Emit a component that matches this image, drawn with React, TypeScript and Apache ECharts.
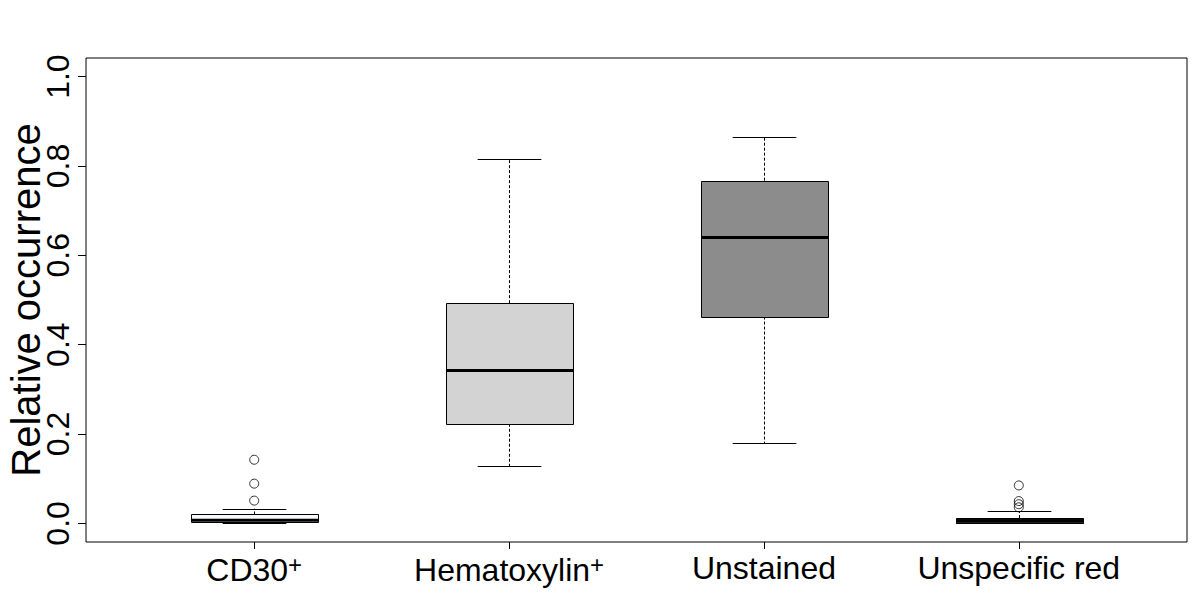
import React, { useEffect, useRef } from "react";
import * as echarts from "echarts";

const categories = ["CD30", "Hematoxylin", "Unstained", "Unspecific red"];
const categorySup = ["+", "+", "", ""];
const boxMin = [0.0, 0.128, 0.179, 0.0];
const boxQ1 = [0.001, 0.223, 0.463, 0.0005];
const boxMedian = [0.007, 0.342, 0.64, 0.006];
const boxQ3 = [0.02, 0.493, 0.767, 0.012];
const boxMax = [0.033, 0.816, 0.864, 0.027];
const boxFills = ["#f8f8ff", "#d3d3d3", "#8c8c8c", "#2a2a2a"];
const outliers: [number, number][] = [
  [1, 0.1425],
  [1, 0.089],
  [1, 0.051],
  [4, 0.085],
  [4, 0.05],
  [4, 0.043],
  [4, 0.036],
];
const yTicks = [0, 0.2, 0.4, 0.6, 0.8, 1.0];
const xTicks = [1, 2, 3, 4];

const FONT = "'Liberation Sans', Arial, Helvetica, sans-serif";

export default function App() {
  const ref = useRef<HTMLDivElement>(null);
  useEffect(() => {
    if (!ref.current) return;
    const chart = echarts.init(ref.current, undefined, { renderer: "svg" });
    const boxData = categories.map((_, i) => [
      i + 1,
      boxMin[i],
      boxQ1[i],
      boxMedian[i],
      boxQ3[i],
      boxMax[i],
    ]);
    const snap = (v: number) => Math.round(v) + 0.5;
    chart.setOption({
      animation: false,
      backgroundColor: "#ffffff",
      grid: {
        left: 86,
        right: 13,
        top: 58,
        bottom: 58,
        show: true,
        borderColor: "#000",
        borderWidth: 1,
        backgroundColor: "transparent",
        containLabel: false,
        outerBoundsMode: "none",
      },
      xAxis: {
        type: "value",
        min: 0.34,
        max: 4.66,
        axisLine: { show: false, onZero: false },
        splitLine: { show: false },
        axisTick: {
          show: true,
          inside: false,
          length: 7,
          customValues: xTicks,
          lineStyle: { color: "#000", width: 1 },
        },
        axisLabel: {
          customValues: xTicks,
          formatter: (v: number) => {
            const i = Math.round(v) - 1;
            const name = categories[i] ?? "";
            const sup = categorySup[i] ?? "";
            return sup ? `${name}{sup|${sup}}` : name;
          },
          fontFamily: FONT,
          fontSize: 32,
          color: "#000",
          margin: 10,
          rich: {
            sup: {
              fontFamily: FONT,
              fontSize: 24,
              color: "#000",
              padding: [0, 0, 12, 0],
            },
          },
        },
      },
      yAxis: {
        type: "value",
        min: -0.0416,
        max: 1.0416,
        axisLine: { show: false },
        splitLine: { show: false },
        axisTick: {
          show: true,
          inside: false,
          length: 8,
          customValues: yTicks,
          lineStyle: { color: "#000", width: 1 },
        },
        axisLabel: {
          customValues: yTicks,
          formatter: (v: number) => v.toFixed(1),
          rotate: 90,
          fontFamily: FONT,
          fontSize: 32,
          color: "#000",
          margin: 12,
        },
        name: "Relative occurrence",
        nameLocation: "middle",
        nameRotate: 90,
        nameGap: 40,
        nameMoveOverlap: false,
        nameTextStyle: { fontFamily: FONT, fontSize: 40, color: "#000" },
      },
      series: [
        {
          type: "custom",
          data: boxData,
          renderItem: (params: any, api: any) => {
            const idx = api.value(0);
            const band = api.size([1, 0])[0];
            const bw = band * 0.5;
            const cw = band * 0.25;
            const pMin = api.coord([idx, api.value(1)]);
            const pQ1 = api.coord([idx, api.value(2)]);
            const pMed = api.coord([idx, api.value(3)]);
            const pQ3 = api.coord([idx, api.value(4)]);
            const pMax = api.coord([idx, api.value(5)]);
            const cx = snap(pMin[0]);
            const fill = boxFills[params.dataIndex];
            const dashStyle = { stroke: "#000", lineWidth: 1, lineDash: [3, 2] };
            const solid = { stroke: "#000", lineWidth: 1 };
            return {
              type: "group",
              children: [
                {
                  type: "line",
                  shape: { x1: cx, y1: pQ3[1], x2: cx, y2: pMax[1] },
                  style: dashStyle,
                },
                {
                  type: "line",
                  shape: { x1: cx, y1: pQ1[1], x2: cx, y2: pMin[1] },
                  style: dashStyle,
                },
                {
                  type: "line",
                  shape: { x1: cx - cw / 2, y1: snap(pMax[1]), x2: cx + cw / 2, y2: snap(pMax[1]) },
                  style: solid,
                },
                {
                  type: "line",
                  shape: { x1: cx - cw / 2, y1: snap(pMin[1]), x2: cx + cw / 2, y2: snap(pMin[1]) },
                  style: solid,
                },
                {
                  type: "rect",
                  shape: {
                    x: snap(cx - bw / 2),
                    y: snap(pQ3[1]),
                    width: Math.round(bw),
                    height: Math.max(1, Math.round(pQ1[1] - pQ3[1])),
                  },
                  style: { fill, stroke: "#000", lineWidth: 1 },
                },
                {
                  type: "line",
                  shape: { x1: snap(cx - bw / 2), y1: pMed[1], x2: snap(cx - bw / 2) + Math.round(bw), y2: pMed[1] },
                  style: { stroke: "#000", lineWidth: 3 },
                },
              ],
            };
          },
          z: 2,
        },
        {
          type: "scatter",
          data: outliers,
          symbol: "circle",
          symbolSize: 9,
          itemStyle: { color: "rgba(0,0,0,0)", borderColor: "#000", borderWidth: 1 },
          z: 3,
        },
      ],
    });
    return () => chart.dispose();
  }, []);
  return <div ref={ref} style={{ width: 1200, height: 600, position: "absolute", left: 0, top: 0 }} />;
}
